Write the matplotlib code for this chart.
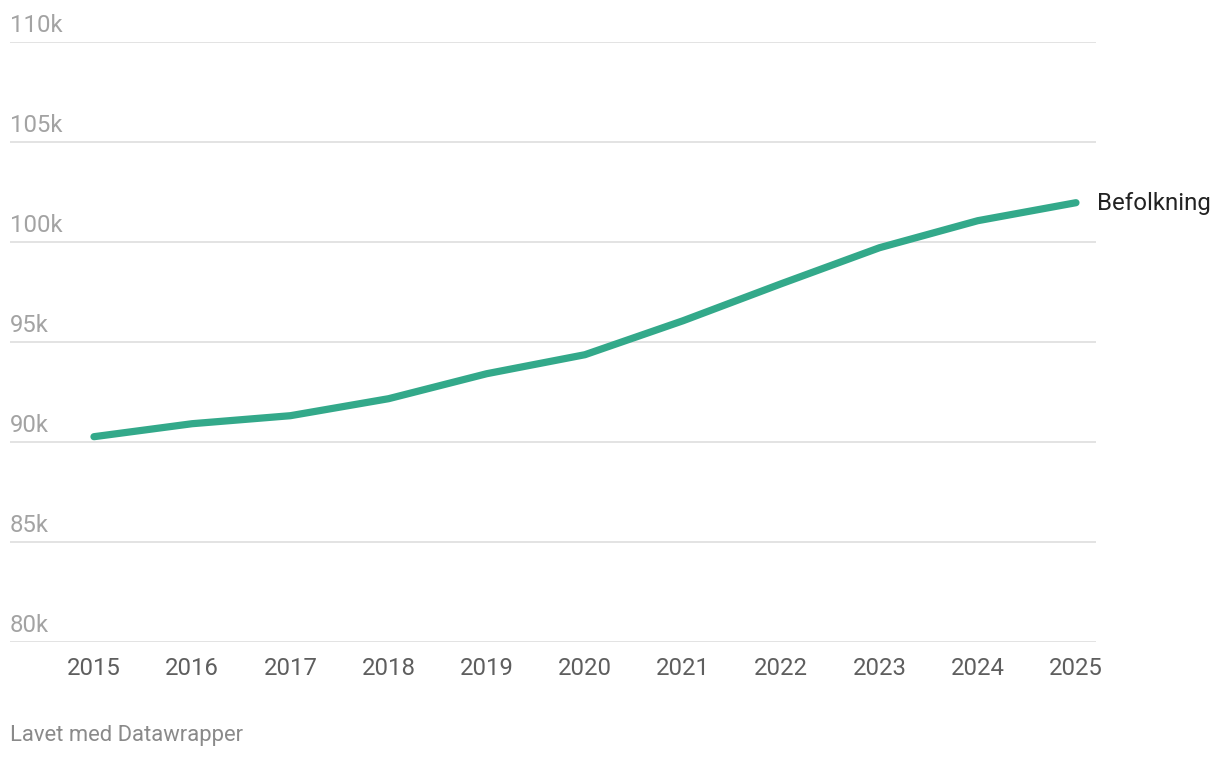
import matplotlib
matplotlib.use("Agg")
import matplotlib.pyplot as plt

years = [2015, 2016, 2017, 2018, 2019, 2020, 2021, 2022, 2023, 2024, 2025]
population = [90250, 90900, 91300, 92150, 93400, 94350, 96050, 97900, 99700, 101050, 101950]
y_ticks = [80000, 85000, 90000, 95000, 100000, 105000, 110000]
y_tick_labels = ["80k", "85k", "90k", "95k", "100k", "105k", "110k"]
series_label = "Befolkning"
footer = "Lavet med Datawrapper"

plt.rcParams['font.family'] = ['Roboto', 'DejaVu Sans']

W, H = 1220, 758
fig = plt.figure(figsize=(W / 100, H / 100), dpi=100)
left, right = 10 / W, 1096 / W
bottom, top = (H - 641.7) / H, (H - 41.7) / H
ax = fig.add_axes([left, bottom, right - left, top - bottom])

ax.set_xlim(2014.145, 2025.204)
ax.set_ylim(80000, 110000)

for yt in y_ticks:
    ax.axhline(yt, color="#e3e3e3", lw=1.4, zorder=1)

ax.plot(years, population, color="#33a98a", lw=5.2, solid_capstyle="round",
        solid_joinstyle="round", zorder=3)

for s in ax.spines.values():
    s.set_visible(False)
ax.set_xticks([])
ax.set_yticks([])

# y labels above gridlines
for yt, lab in zip(y_ticks, y_tick_labels):
    ax.annotate(lab, xy=(0, yt), xycoords=("axes fraction", "data"),
                xytext=(0, 5), textcoords="offset pixels",
                ha="left", va="bottom", fontsize=17.2, color="#a3a3a3")

# x labels
for yr in years:
    ax.annotate(str(yr), xy=(yr, 0), xycoords=("data", "axes fraction"),
                xytext=(0, -27), textcoords="offset pixels",
                ha="center", va="center", fontsize=17.2, color="#5e5e5e")

# series label
ax.annotate(series_label, xy=(years[-1], population[-1]), xycoords="data",
            xytext=(21, -1), textcoords="offset pixels",
            ha="left", va="center", fontsize=17.3, color="#222222",
            annotation_clip=False)

fig.text(10 / W, 1 - 735 / H, footer, ha="left", va="center",
         fontsize=15.8, color="#8a8a8a")

fig.savefig("out.png", dpi=100, facecolor="white")
